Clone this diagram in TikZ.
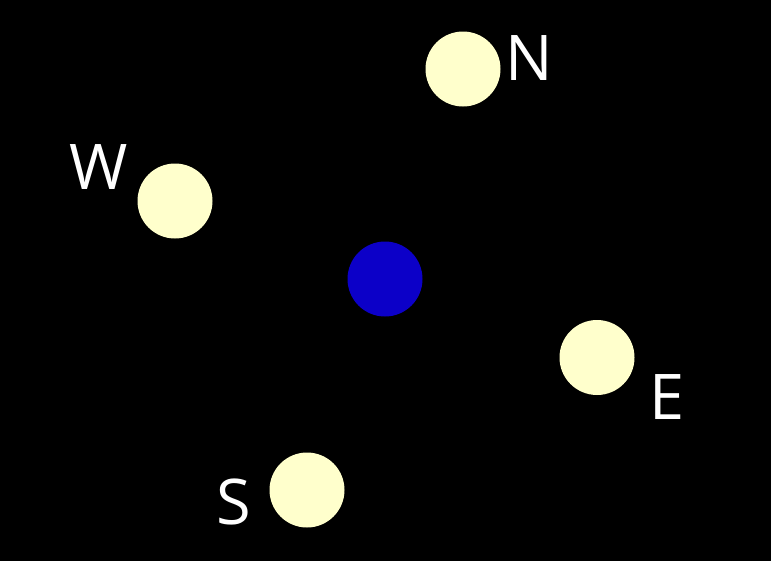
\documentclass[tikz,border=0pt]{standalone}
\usepackage{fontspec}
\setmainfont{Open Sans}
\definecolor{moon}{HTML}{FFFFCC}
\definecolor{core}{HTML}{0C00C8}
\begin{document}
\begin{tikzpicture}[x=1pt,y=-1pt,
  dot/.style={circle,fill=moon,minimum size=75pt,inner sep=0pt},
  lbl/.style={text=white,font=\fontsize{63}{63}\selectfont,inner sep=0pt,anchor=base}]
\useasboundingbox (0,0) rectangle (771,560);
\fill[black] (-3,-3) rectangle (774,563);
\node[dot] (n) at (463,69) {};
\node[dot] (w) at (175,201) {};
\node[dot] (e) at (597,357.5) {};
\node[dot] (s) at (307,490) {};
\node[circle,fill=core,minimum size=75pt,inner sep=0pt] (c) at (385,279) {};
\node[lbl] (ln) at (529.7,80) {N};
\node[lbl] (lw) at (98.3,189.3) {W};
\node[lbl] (le) at (666.7,419.3) {E};
\node[lbl] (ls) at (234,524) {S};
\end{tikzpicture}
\end{document}
